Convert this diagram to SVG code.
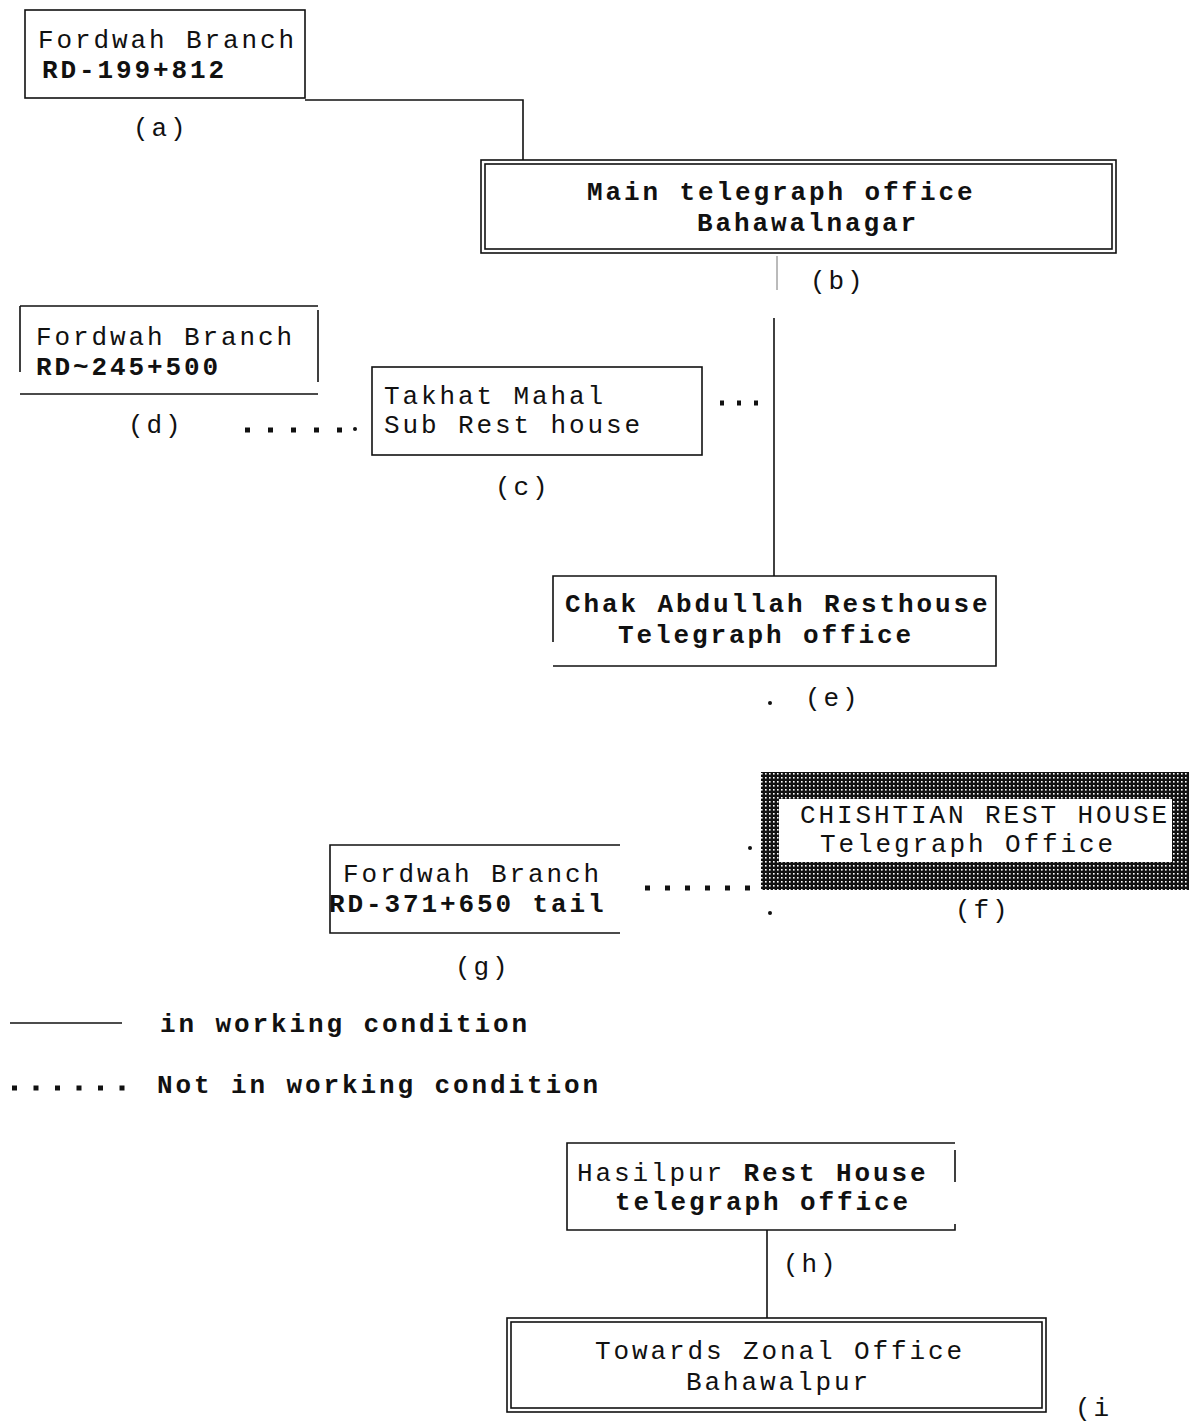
<svg xmlns="http://www.w3.org/2000/svg" width="1191" height="1423" viewBox="0 0 1191 1423">
<style>
text{font-family:"Liberation Mono","Courier New",monospace;font-size:26px;letter-spacing:2.9px;fill:#111}
.b{font-weight:bold}
.ln{stroke:#111;stroke-width:1.6;fill:none}
.dot{stroke:#111;stroke-width:5;fill:none}
</style>
<defs>
<pattern id="hatch" width="4" height="4" patternUnits="userSpaceOnUse">
<rect width="4" height="4" fill="#111"/>
<rect x="1" y="1" width="1.6" height="1.6" fill="#fff"/>
</pattern>
</defs>
<rect width="1191" height="1423" fill="#fff"/>

<g id="connectors">
<polyline class="ln" points="305,100 523,100 523,160"/>
<line x1="777" y1="256" x2="777" y2="290" stroke-width="1" stroke="#777"/>
<line class="ln" x1="774" y1="318" x2="774" y2="576"/>
<line class="dot" x1="245" y1="430" x2="342" y2="430" stroke-dasharray="5 18"/>
<circle cx="355" cy="429" r="2" fill="#111"/>
<line class="dot" x1="720" y1="403" x2="758" y2="403" stroke-width="3.5" stroke-dasharray="4 13"/>
<circle cx="770" cy="703" r="2" fill="#111"/>
<line class="dot" x1="645" y1="888" x2="750" y2="888" stroke-dasharray="5 15"/>
<circle cx="750" cy="848" r="2" fill="#111"/>
<circle cx="770" cy="913" r="2" fill="#111"/>
<line class="ln" x1="767" y1="1230" x2="767" y2="1318"/>
</g>

<g id="node-a">
<rect class="ln" x="25" y="10" width="280" height="88"/>
<text x="38" y="48">Fordwah Branch</text>
<text class="b" x="42" y="78">RD-199+812</text>
<text x="133" y="136">(a)</text>
</g>

<g id="node-b">
<rect class="ln" x="481" y="160" width="635" height="93"/>
<rect class="ln" x="485" y="164" width="627" height="85"/>
<text class="b" x="587" y="200">Main telegraph office</text>
<text class="b" x="697" y="231">Bahawalnagar</text>
<text x="810" y="289">(b)</text>
</g>

<g id="node-d">
<path class="ln" d="M20,306 H318 M20,306 V372 M318,310 V382 M20,394 H318"/>
<text x="36" y="345">Fordwah Branch</text>
<text class="b" x="36" y="375">RD~245+500</text>
<text x="128" y="433">(d)</text>
</g>

<g id="node-c">
<rect class="ln" x="372" y="367" width="330" height="88"/>
<text x="384" y="404">Takhat Mahal</text>
<text x="384" y="433">Sub Rest house</text>
<text x="495" y="495">(c)</text>
</g>

<g id="node-e">
<path class="ln" d="M553,642 V576 H996 V666 H553"/>
<text class="b" x="565" y="612">Chak Abdullah Resthouse</text>
<text class="b" x="618" y="643">Telegraph office</text>
<text x="805" y="706">(e)</text>
</g>

<g id="node-f">
<rect x="761" y="772" width="428" height="118" fill="url(#hatch)"/>
<rect x="779" y="799" width="393" height="63" fill="#fff"/>
<text x="800" y="823">CHISHTIAN REST HOUSE</text>
<text x="820" y="852">Telegraph Office</text>
<text x="955" y="918">(f)</text>
</g>

<g id="node-g">
<path class="ln" d="M620,845 H330 V933 H620"/>
<text x="343" y="882">Fordwah Branch</text>
<text class="b" x="329" y="912">RD-371+650 tail</text>
<text x="455" y="975">(g)</text>
</g>

<g id="legend">
<line class="ln" x1="10" y1="1023" x2="122" y2="1023"/>
<text class="b" x="160" y="1032">in working condition</text>
<line class="dot" x1="12" y1="1088" x2="125" y2="1088" stroke-dasharray="5 16.5"/>
<text class="b" x="157" y="1093">Not in working condition</text>
</g>

<g id="node-h">
<path class="ln" d="M955,1150 V1182 M955,1224 V1230 H567 V1143 H955"/>
<text x="577" y="1181"><tspan>Hasilpur</tspan><tspan class="b"> Rest House</tspan></text>
<text class="b" x="615" y="1210">telegraph office</text>
<text x="783" y="1272">(h)</text>
</g>

<g id="node-i">
<rect class="ln" x="507" y="1318" width="539" height="94"/>
<rect class="ln" x="511" y="1322" width="531" height="86"/>
<text x="595" y="1359">Towards Zonal Office</text>
<text x="686" y="1390">Bahawalpur</text>
<text x="1075" y="1416">(i</text>
</g>
</svg>
